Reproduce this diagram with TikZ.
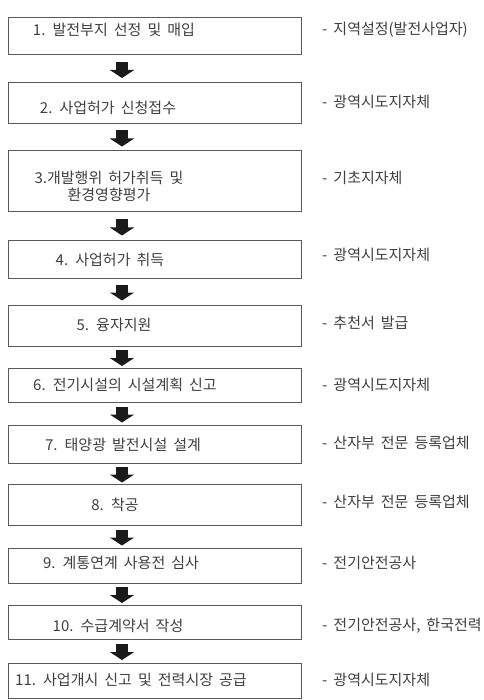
\documentclass[tikz,border=0pt]{standalone}
\usepackage{fontspec}
\setmainfont{Noto Sans CJK KR}[WordSpace=1.8]
\usetikzlibrary{arrows.meta,calc}
\definecolor{boxgray}{HTML}{5A5A5A}
\definecolor{txtgray}{HTML}{404040}
\definecolor{arrowblack}{HTML}{1A1A1A}
\begin{document}
\begin{tikzpicture}[x=1pt,y=-1pt,
  stepbox/.style={draw=boxgray, line width=1pt, inner sep=0pt, minimum width=293pt},
  steptext/.style={text=txtgray, inner sep=0pt, align=center, font=\fontsize{15}{17}\selectfont},
  note/.style={text=txtgray, inner sep=0pt, anchor=west, font=\fontsize{15}{17}\selectfont},
  barrow/.style={draw=arrowblack, line width=12pt, -{Triangle[width=24pt,length=8pt]}}]
\useasboundingbox[fill=white] (0,0) rectangle (483,700);

% boxes
\node[stepbox, minimum height=37pt] (b1) at (154.5,36.5) {};
\node[stepbox, minimum height=41pt] (b2) at (154.5,103.5) {};
\node[stepbox, minimum height=61pt] (b3) at (154.5,181.5) {};
\node[stepbox, minimum height=37pt] (b4) at (154.5,259.5) {};
\node[stepbox, minimum height=41pt] (b5) at (154.5,325.5) {};
\node[stepbox, minimum height=34pt] (b6) at (154.5,385) {};
\node[stepbox, minimum height=38pt] (b7) at (154.5,444) {};
\node[stepbox, minimum height=41pt] (b8) at (154.5,504.5) {};
\node[stepbox, minimum height=35pt] (b9) at (154.5,565.5) {};
\node[stepbox, minimum height=34pt] (b10) at (154.5,622) {};
\node[stepbox, minimum height=35pt] (b11) at (154.5,680.5) {};

% step texts
\node[steptext] (t1) at (114,30) {1. 발전부지 선정 및 매입};
\node[steptext] (t2) at (108,108) {2. 사업허가 신청접수};
\node[steptext] (t3) at (109,186.5) {3.개발행위 허가취득 및\\환경영향평가};
\node[steptext] (t4) at (110,260) {4. 사업허가 취득};
\node[steptext] (t5) at (114,325) {5. 융자지원};
\node[steptext] (t6) at (125,385) {6. 전기시설의 시설계획 신고};
\node[steptext] (t7) at (123,445) {7. 태양광 발전시설 설계};
\node[steptext] (t8) at (115,505) {8. 착공};
\node[steptext] (t9) at (121,563) {9. 계통연계 사용전 심사};
\node[steptext] (t10) at (118,626) {10. 수급계약서 작성};
\node[steptext] (t11) at (131,680) {11. 사업개시 신고 및 전력시장 공급};

% side notes
\node[note] (n1) at (322,30) {- 지역설정(발전사업자)};
\node[note] (n2) at (322,102) {- 광역시도지자체};
\node[note] (n3) at (322,178) {- 기초지자체};
\node[note] (n4) at (322,255) {- 광역시도지자체};
\node[note] (n5) at (322,323) {- 추천서 발급};
\node[note] (n6) at (322,385) {- 광역시도지자체};
\node[note] (n7) at (322,443) {- 산자부 전문 등록업체};
\node[note] (n8) at (322,502) {- 산자부 전문 등록업체};
\node[note] (n9) at (322,563) {- 전기안전공사};
\node[note] (n10) at (322,626) {- 전기안전공사, 한국전력};
\node[note] (n11) at (322,680) {- 광역시도지자체};

% arrows
\foreach \a/\b in {b1/b2,b2/b3,b3/b4,b4/b5,b5/b6,b6/b7,b7/b8,b8/b9,b9/b10,b10/b11}{
  \draw[barrow] ($(\a.south)!.5!(\b.north)+(-32.5,-7)$) -- ++(0,16);
}
\end{tikzpicture}
\end{document}
